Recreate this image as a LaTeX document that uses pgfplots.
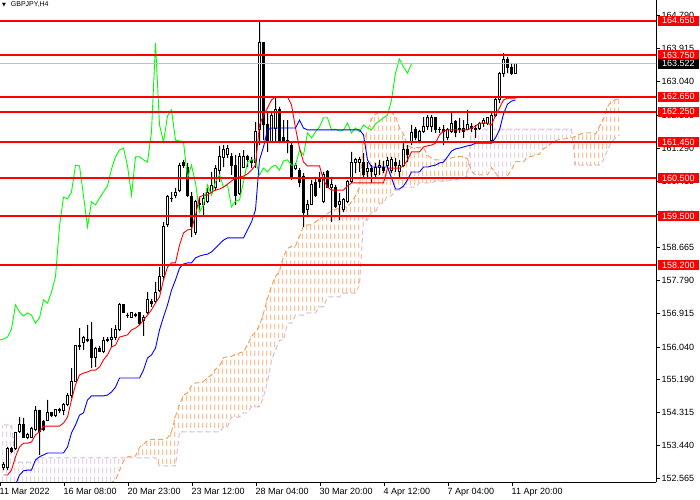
\documentclass[border=0pt]{standalone}
\usepackage{fontspec}
\setmainfont{Liberation Sans}
\newfontfamily\dejavu{DejaVu Sans}
\usepackage{pgfplots}
\usepackage{pgfplotstable}
\pgfplotsset{compat=1.18}
\usetikzlibrary{patterns}

\definecolor{mtred}{RGB}{255,0,0}
\definecolor{mtblue}{RGB}{0,0,255}
\definecolor{mtgreen}{RGB}{0,255,0}
\definecolor{sandy}{RGB}{244,164,96}
\definecolor{thist}{RGB}{216,191,216}
\definecolor{bidgray}{RGB}{192,192,192}
\newcommand\lbl{\fontsize{9bp}{10bp}\selectfont}

% dotted vertical hatch of the cloud, one column per bar (4bp)
\pgfdeclarepatternformonly{mthatch}{\pgfqpoint{0bp}{0bp}}{\pgfqpoint{4bp}{9bp}}{\pgfqpoint{4bp}{9bp}}{%
  \pgfpathrectangle{\pgfqpoint{3bp}{0bp}}{\pgfqpoint{1bp}{6bp}}%
  \pgfusepath{fill}}

% same frame for every overlaid axis
\pgfplotsset{mtaxis/.style={at={(0,18bp)}, anchor=south west,
  scale only axis, width=656bp, height=482bp,
  xmin=-0.875, xmax=163.125, ymin=152.475, ymax=165.20}}

% H4 candles: bar index, open, high, low, close
\pgfplotstableread{
i o h l c
0 152.85 153.00 152.79 152.95
1 152.87 153.40 152.79 153.37
2 153.35 153.40 153.24 153.29
3 153.35 153.80 153.32 153.77
4 153.80 154.19 153.77 153.98
5 153.98 154.17 153.64 153.66
6 153.66 153.77 153.61 153.72
7 153.66 153.93 153.64 153.90
8 153.87 154.48 153.82 154.35
9 154.35 154.38 153.19 153.82
10 154.06 154.11 153.82 153.85
11 154.11 154.64 154.09 154.30
12 154.30 154.32 154.19 154.22
13 154.22 154.40 154.19 154.38
14 154.38 154.43 154.30 154.35
15 154.35 154.56 154.24 154.51
16 154.51 154.82 154.48 154.77
17 154.75 155.48 154.69 155.12
18 155.14 156.09 155.12 156.07
19 156.07 156.54 155.96 156.04
20 156.17 156.33 155.96 156.28
21 156.25 156.62 156.17 156.22
22 156.25 156.70 155.48 155.75
23 155.75 156.04 155.51 156.01
24 156.01 156.07 155.91 155.93
25 155.93 156.30 155.88 156.22
26 156.22 156.30 156.17 156.25
27 156.25 156.54 156.04 156.30
28 156.30 156.62 156.22 156.51
29 156.49 157.20 156.46 157.15
30 157.15 157.17 156.94 156.96
31 156.88 156.94 156.81 156.86
32 156.83 156.96 156.81 156.94
33 156.91 156.94 156.83 156.88
34 156.94 156.96 156.62 156.67
35 156.75 156.88 156.33 156.81
36 156.96 157.49 156.91 157.28
37 157.23 157.31 157.10 157.20
38 157.23 157.76 157.20 157.49
39 157.52 158.15 157.49 157.89
40 157.89 159.34 157.81 159.23
41 159.26 160.05 159.21 160.00
42 159.97 160.13 159.87 159.95
43 160.03 160.24 159.97 160.13
44 160.18 160.90 160.13 160.84
45 160.90 160.98 160.77 160.82
46 160.79 160.90 160.00 160.03
47 160.00 160.13 158.94 159.21
48 159.05 159.92 159.00 159.87
49 159.84 160.00 159.66 159.79
50 159.79 160.10 159.52 159.97
51 159.87 160.24 159.84 160.13
52 160.13 160.66 160.05 160.29
53 160.26 160.84 160.18 160.74
54 160.71 161.35 160.40 161.06
55 161.03 161.37 160.79 161.24
56 161.13 161.37 161.03 161.29
57 161.08 161.16 160.58 160.82
58 160.84 161.11 159.79 160.05
59 160.10 161.16 160.05 161.06
60 160.79 161.24 160.77 161.06
61 161.06 161.11 160.79 160.98
62 160.95 161.06 160.77 160.92
63 160.92 161.98 160.77 161.72
64 161.77 164.66 161.37 164.07
65 164.07 164.09 161.50 161.90
66 161.90 162.22 161.19 161.45
67 161.45 162.22 161.45 162.14
68 161.82 162.64 161.45 162.30
69 162.30 162.38 161.42 161.50
70 161.56 162.03 161.42 161.48
71 161.50 162.03 161.16 161.45
72 161.37 161.42 160.45 160.50
73 160.74 160.90 160.71 160.84
74 160.71 160.76 160.26 160.37
75 160.53 160.63 159.21 159.60
76 159.66 159.92 159.47 159.79
77 159.79 160.45 159.79 160.32
78 160.37 160.53 160.00 160.05
79 160.45 160.66 160.24 160.40
80 159.87 160.66 159.84 160.58
81 160.66 160.71 160.24 160.26
82 160.24 160.53 159.34 160.32
83 160.26 160.32 159.71 159.74
84 159.79 160.10 159.39 159.89
85 159.66 159.97 159.60 159.92
86 159.87 160.45 159.84 160.40
87 160.40 161.19 160.37 160.92
88 160.90 161.03 160.63 160.98
89 160.90 161.06 160.66 160.98
90 160.92 161.16 160.53 160.58
91 160.66 160.92 160.53 160.76
92 160.76 160.84 160.37 160.66
93 160.58 160.90 160.53 160.79
94 160.79 160.98 160.58 160.84
95 160.79 160.95 160.63 160.71
96 160.84 161.06 160.76 160.95
97 160.71 161.06 160.63 160.98
98 160.92 161.03 160.66 160.84
99 160.66 160.98 160.53 160.84
100 160.84 161.45 160.79 161.24
101 161.24 161.37 160.92 161.11
102 161.45 161.90 161.37 161.69
103 161.77 161.85 161.50 161.56
104 161.50 161.77 161.42 161.72
105 161.72 162.11 161.69 161.85
106 161.85 162.16 161.77 162.09
107 161.85 162.16 161.72 162.09
108 162.09 162.11 161.69 161.77
109 161.77 161.85 161.69 161.79
110 161.79 161.90 161.37 161.74
111 161.56 161.82 161.50 161.77
112 161.74 162.22 161.69 161.95
113 161.98 162.03 161.58 161.69
114 161.77 162.09 161.69 161.82
115 161.82 162.03 161.56 161.72
116 161.77 162.30 161.77 161.90
117 161.87 161.95 161.72 161.82
118 161.82 161.90 161.56 161.77
119 161.82 161.98 161.77 161.93
120 161.93 162.09 161.85 162.01
121 161.95 162.11 161.90 162.09
122 161.50 162.22 161.42 162.16
123 162.16 162.61 162.11 162.56
124 162.56 163.30 162.48 163.27
125 163.25 163.80 163.17 163.64
126 163.64 163.70 163.27 163.43
127 163.43 163.54 163.22 163.27
128 163.27 163.54 163.27 163.52
}\candles

% Tenkan-sen (t) and Kijun-sen (k)
\pgfplotstableread{
i t k
0 152.66 152.26
1 152.66 152.26
2 152.79 152.26
3 153.14 152.40
4 153.40 152.66
5 153.50 152.77
6 153.50 152.79
7 153.53 152.79
8 153.72 153.06
9 153.80 153.14
10 153.95 153.19
11 153.95 153.24
12 153.95 153.24
13 153.95 153.24
14 153.95 153.24
15 154.03 153.24
16 154.19 153.40
17 154.64 153.77
18 155.04 153.98
19 155.30 154.24
20 155.35 154.30
21 155.38 154.64
22 155.43 154.75
23 155.43 154.75
24 155.51 154.75
25 155.70 154.75
26 155.83 154.77
27 156.04 154.85
28 156.09 154.98
29 156.30 155.22
30 156.33 155.22
31 156.36 155.22
32 156.49 155.22
33 156.54 155.22
34 156.62 155.22
35 156.75 155.43
36 156.88 155.75
37 157.02 155.83
38 157.20 156.01
39 157.36 156.49
40 157.81 156.83
41 158.15 157.15
42 158.26 157.54
43 158.26 157.81
44 158.73 158.12
45 159.05 158.23
46 159.13 158.26
47 159.15 158.26
48 159.52 158.39
49 160.00 158.44
50 160.05 158.47
51 160.05 158.49
52 160.13 158.55
53 160.18 158.65
54 160.21 158.76
55 160.26 158.86
56 160.34 158.92
57 160.42 158.92
58 160.50 158.92
59 160.53 158.92
60 160.55 158.92
61 160.61 159.13
62 160.71 159.34
63 160.84 159.66
64 161.90 160.98
65 162.16 161.32
66 162.35 161.77
67 162.56 161.82
68 162.64 161.82
69 162.64 161.82
70 162.64 161.82
71 162.64 161.82
72 162.43 161.82
73 161.82 161.82
74 161.29 162.03
75 160.92 161.82
76 160.82 161.77
77 160.82 161.77
78 160.82 161.77
79 160.82 161.77
80 160.45 161.77
81 160.26 161.77
82 160.18 161.77
83 160.18 161.77
84 160.18 161.77
85 160.18 161.77
86 160.29 161.77
87 160.37 161.77
88 160.37 161.77
89 160.37 161.77
90 160.37 161.64
91 160.37 160.98
92 160.37 160.79
93 160.37 160.79
94 160.37 160.79
95 160.37 160.79
96 160.76 160.79
97 160.76 160.50
98 160.76 160.21
99 160.76 160.21
100 160.82 160.29
101 160.98 160.45
102 161.19 160.66
103 161.19 160.66
104 161.19 160.66
105 161.32 160.79
106 161.35 160.79
107 161.37 160.82
108 161.42 160.84
109 161.64 160.90
110 161.74 160.92
111 161.77 161.06
112 161.77 161.21
113 161.77 161.27
114 161.77 161.29
115 161.77 161.32
116 161.77 161.35
117 161.82 161.37
118 161.87 161.42
119 161.95 161.42
120 161.95 161.42
121 161.95 161.42
122 161.90 161.42
123 162.16 161.56
124 162.35 161.77
125 162.56 162.19
126 162.61 162.45
127 162.61 162.53
128 162.61 162.56
}\lines

% Senkou span A (a) and B (b), already 26 bars ahead
\pgfplotstableread{
i a b
0 152.00 153.98
1 152.00 153.98
2 152.00 153.98
3 152.00 153.00
4 152.00 153.00
5 152.00 153.00
6 152.00 153.00
7 152.00 153.00
8 152.00 153.00
9 152.00 153.11
10 152.00 153.11
11 152.00 153.11
12 152.00 153.11
13 152.00 153.11
14 152.00 153.11
15 152.00 153.11
16 152.00 153.11
17 152.00 153.11
18 152.00 153.11
19 152.00 153.11
20 152.00 153.11
21 152.00 153.11
22 152.00 153.11
23 152.00 153.11
24 152.00 153.11
25 152.00 153.11
26 152.46 153.11
27 152.46 153.11
28 152.53 153.11
29 152.77 153.11
30 153.03 153.11
31 153.14 153.11
32 153.15 153.11
33 153.16 153.11
34 153.39 153.11
35 153.47 153.11
36 153.57 153.11
37 153.60 153.11
38 153.60 153.11
39 153.60 152.90
40 153.60 152.90
41 153.64 152.90
42 153.80 152.90
43 154.21 152.90
44 154.51 153.80
45 154.77 153.80
46 154.83 153.80
47 155.01 153.80
48 155.09 153.80
49 155.09 153.80
50 155.13 153.80
51 155.23 153.80
52 155.30 153.80
53 155.45 153.80
54 155.54 153.80
55 155.76 153.93
56 155.78 153.93
57 155.79 154.19
58 155.86 154.19
59 155.88 154.19
60 155.92 154.30
61 156.09 154.30
62 156.32 154.46
63 156.43 154.46
64 156.61 154.46
65 156.93 154.72
66 157.32 155.12
67 157.65 155.70
68 157.90 155.96
69 158.04 156.22
70 158.43 156.22
71 158.64 156.67
72 158.70 156.67
73 158.71 156.88
74 158.96 156.88
75 159.22 156.88
76 159.26 156.94
77 159.27 156.94
78 159.34 156.94
79 159.42 157.10
80 159.49 157.10
81 159.56 157.36
82 159.63 157.36
83 159.67 157.36
84 159.71 157.36
85 159.73 157.46
86 159.74 157.46
87 159.87 157.46
88 160.03 157.46
89 160.25 157.68
90 161.44 159.39
91 161.74 159.39
92 162.06 159.60
93 162.19 159.60
94 162.23 159.84
95 162.23 159.84
96 162.23 160.03
97 162.23 160.03
98 162.13 160.18
99 161.82 160.18
100 161.66 160.26
101 161.37 160.26
102 161.30 160.26
103 161.30 160.26
104 161.30 160.37
105 161.30 160.37
106 161.11 160.37
107 161.02 160.37
108 160.98 160.42
109 160.98 160.42
110 160.98 160.42
111 160.98 160.42
112 161.03 160.45
113 161.07 160.45
114 161.07 160.50
115 161.07 160.50
116 161.01 160.55
117 160.68 161.79
118 160.58 161.79
119 160.58 161.79
120 160.58 161.79
121 160.58 161.79
122 160.78 161.79
123 160.63 161.79
124 160.49 161.79
125 160.49 161.79
126 160.56 161.79
127 160.72 161.79
128 160.93 161.79
129 160.93 161.79
130 160.93 161.79
131 161.06 161.79
132 161.07 161.79
133 161.10 161.79
134 161.13 161.79
135 161.27 161.79
136 161.33 161.79
137 161.42 161.79
138 161.49 161.79
139 161.52 161.79
140 161.53 161.79
141 161.55 161.79
142 161.56 161.79
143 161.60 160.84
144 161.65 160.84
145 161.69 160.84
146 161.69 160.84
147 161.69 160.84
148 161.66 160.84
149 161.86 160.84
150 162.06 160.98
151 162.38 161.24
152 162.53 161.45
153 162.57 161.56
154 162.59 161.64
}\cloud

\begin{document}
\begin{tikzpicture}
\useasboundingbox (0,0) rectangle (700bp,500bp);

% frame, ticks and the cloud edges
\begin{axis}[
  mtaxis,
  axis x line=bottom, axis y line=right,
  axis line style={-, black, line width=0.8bp},
  every outer x axis line/.append style={-},
  every outer y axis line/.append style={-},
  every inner x axis line/.append style={-},
  every inner y axis line/.append style={-},
  tick align=outside, major tick length=4bp,
  tick style={black, line width=0.8bp},
  xtick={-0.875,15.125,31.125,47.125,63.125,79.125,95.125,111.125,127.125},
  xticklabels={11 Mar 2022,16 Mar 08:00,20 Mar 23:00,23 Mar 12:00,28 Mar 04:00,30 Mar 20:00,4 Apr 12:00,7 Apr 04:00,11 Apr 20:00},
  xticklabel style={font=\lbl, anchor=north west, xshift=-2bp, yshift=-1bp, inner sep=1.5bp},
  ytick={152.565,153.440,154.315,155.190,156.040,156.915,157.790,158.665,159.540,160.415,161.290,162.165,163.040,163.915,164.790},
  yticklabel style={font=\lbl, anchor=west, inner sep=1.5bp,
    /pgf/number format/.cd, fixed, fixed zerofill, precision=3},
  /pgf/number format/assume math mode=true,
  scaled y ticks=false,
]
\addplot[sandy, mark=none, line width=1bp, dash pattern=on 5bp off 3bp] table[x=i, y=a] {\cloud};
\addplot[thist, mark=none, line width=1bp, dash pattern=on 5bp off 3bp] table[x=i, y=b] {\cloud};
\end{axis}

% cloud hatch: hidden base at the lower span, then the rising or falling part
\begin{axis}[mtaxis, hide axis, ybar stacked, bar width=4bp]
\addplot[draw=none, fill=none] table[x=i, y expr={min(\thisrow{a},\thisrow{b})}] {\cloud};
\addplot[draw=none, pattern=mthatch, pattern color=sandy] table[x=i, y expr={max(\thisrow{a}-\thisrow{b},0)}] {\cloud};
\addplot[draw=none, pattern=mthatch, pattern color=thist] table[x=i, y expr={max(\thisrow{b}-\thisrow{a},0)}] {\cloud};
\end{axis}

% candle wicks: hidden base up to the low, then low to high
\begin{axis}[mtaxis, hide axis, ybar stacked, bar width=1bp]
\addplot[draw=none, fill=none] table[x=i, y=l] {\candles};
\addplot[draw=none, fill=black] table[x=i, y expr={\thisrow{h}-\thisrow{l}}] {\candles};
\end{axis}

% candle bodies: white when rising, black when falling
\begin{axis}[mtaxis, hide axis, ybar stacked, bar width=2bp]
\addplot[draw=none, fill=none] table[x=i, y expr={min(\thisrow{o},\thisrow{c})}] {\candles};
\addplot[draw=black, fill=white, line width=1bp] table[x=i, y expr={max(\thisrow{c}-\thisrow{o},0)}] {\candles};
\addplot[draw=black, fill=black, line width=1bp] table[x=i, y expr={max(\thisrow{o}-\thisrow{c},0)}] {\candles};
\end{axis}

% chikou span (close, 26 bars back), tenkan, kijun and the levels
\begin{axis}[mtaxis, hide axis]
\addplot[mtgreen, mark=none, line width=0.9bp] table[x expr={\thisrow{i}-26}, y=c] {\candles};
\addplot[mtred, mark=none, line width=0.9bp] table[x=i, y=t] {\lines};
\addplot[mtblue, mark=none, line width=0.9bp] table[x=i, y=k] {\lines};

\addplot[bidgray, line width=0.8bp] coordinates {(-2,163.522) (170,163.522)};
\addplot[mtred, line width=2bp] coordinates {(-2,164.650) (170,164.650)};
\addplot[mtred, line width=2bp] coordinates {(-2,163.750) (170,163.750)};
\addplot[mtred, line width=2bp] coordinates {(-2,162.650) (170,162.650)};
\addplot[mtred, line width=2bp] coordinates {(-2,162.250) (170,162.250)};
\addplot[mtred, line width=2bp] coordinates {(-2,161.450) (170,161.450)};
\addplot[mtred, line width=2bp] coordinates {(-2,160.500) (170,160.500)};
\addplot[mtred, line width=2bp] coordinates {(-2,159.500) (170,159.500)};
\addplot[mtred, line width=2bp] coordinates {(-2,158.200) (170,158.200)};

\coordinate (L1) at (axis cs:163.125,164.650);
\coordinate (L2) at (axis cs:163.125,163.750);
\coordinate (L3) at (axis cs:163.125,162.650);
\coordinate (L4) at (axis cs:163.125,162.250);
\coordinate (L5) at (axis cs:163.125,161.450);
\coordinate (L6) at (axis cs:163.125,160.500);
\coordinate (L7) at (axis cs:163.125,159.500);
\coordinate (L8) at (axis cs:163.125,158.200);
\coordinate (BID) at (axis cs:163.125,163.522);
\end{axis}

\tikzset{lvl/.style={anchor=west, xshift=1.5bp, fill=mtred, text=white, font=\lbl,
  minimum width=41.5bp, minimum height=10bp, inner sep=0pt}}
\node[lvl] at (L1) {164.650};
\node[lvl] at (L2) {163.750};
\node[lvl] at (L3) {162.650};
\node[lvl] at (L4) {162.250};
\node[lvl] at (L5) {161.450};
\node[lvl] at (L6) {160.500};
\node[lvl] at (L7) {159.500};
\node[lvl] at (L8) {158.200};
\node[lvl, fill=black] at (BID) {163.522};

\node[anchor=west, inner sep=0pt, font=\fontsize{7bp}{8bp}\selectfont] at (10.7bp,495bp) {GBPJPY,H4};
\node[inner sep=0pt] at (4bp,495bp) {\dejavu\fontsize{5bp}{5bp}\selectfont ▼};
\end{tikzpicture}
\end{document}
